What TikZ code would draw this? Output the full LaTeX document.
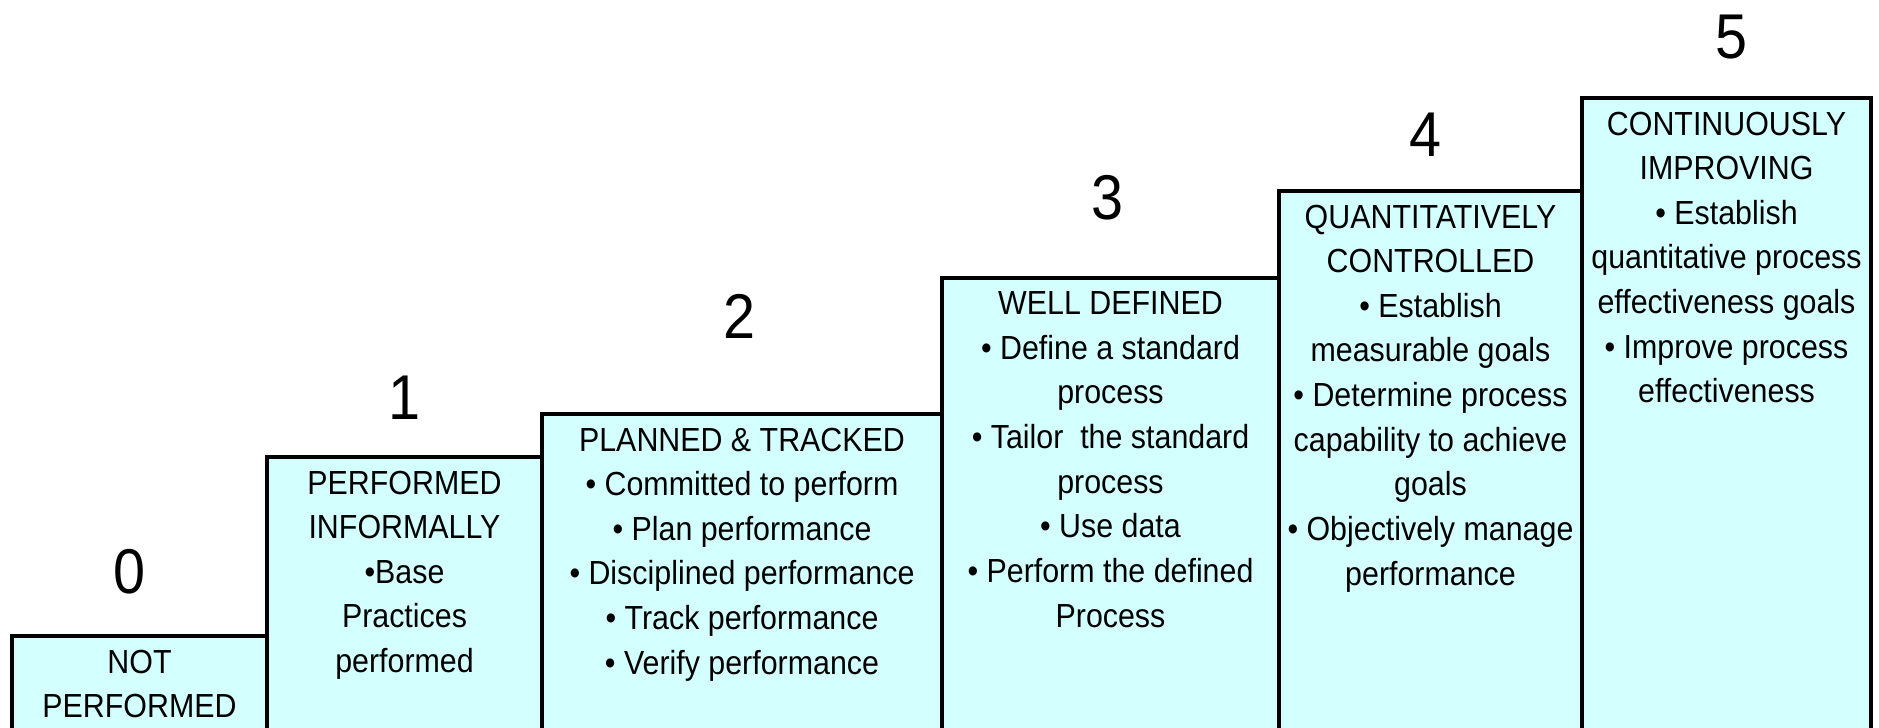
\documentclass[tikz,border=0pt]{standalone}
\usepackage{fontspec}
\setmainfont[FakeStretch=0.91]{Liberation Sans}
\usetikzlibrary{positioning}
\definecolor{stepfill}{HTML}{D4FFFF}

\begin{document}
\begin{tikzpicture}[
        stepbox/.style={draw, line width=1pt, fill=stepfill, anchor=north west, outer sep=0pt, inner sep=0pt},
        steptext/.style={align=center, inner sep=0pt, font=\fontsize{9.5pt}{12.7pt}\selectfont},
        stepnum/.style={inner sep=0pt, font=\fontsize{18pt}{20pt}\selectfont}
    ]
        \useasboundingbox (0,0) rectangle (18.79,7.28);
        \clip (0,0) rectangle (18.79,7.28);
        % the steps
        \node[stepbox, minimum width=2.55cm, minimum height=1.22cm] (b0) at (0.12,0.92) {};
        \node[stepbox, minimum width=2.75cm, minimum height=3.01cm] (b1) at (2.67,2.71) {};
        \node[stepbox, minimum width=4.00cm, minimum height=3.44cm] (b2) at (5.42,3.14) {};
        \node[stepbox, minimum width=3.37cm, minimum height=4.80cm] (b3) at (9.42,4.50) {};
        \node[stepbox, minimum width=3.03cm, minimum height=5.67cm] (b4) at (12.79,5.37) {};
        \node[stepbox, minimum width=2.89cm, minimum height=6.60cm] (b5) at (15.82,6.30) {};
        % levels
        \node[stepnum] (n0) at (1.30,1.56) {0};
        \node[stepnum] (n1) at (4.05,3.30) {1};
        \node[stepnum] (n2) at (7.39,4.12) {2};
        \node[stepnum] (n3) at (11.07,5.30) {3};
        \node[stepnum] (n4) at (14.25,5.93) {4};
        \node[stepnum] (n5) at (17.31,6.91) {5};
        % texts
        \node[steptext, below=0.13cm of b0.north] (t0) {NOT\\PERFORMED};
        \node[steptext, below=0.13cm of b1.north] (t1) {PERFORMED\\INFORMALLY\\\textbullet Base\\Practices\\performed};
        \node[steptext, below=0.13cm of b2.north] (t2) {PLANNED \& TRACKED\\\textbullet{} Committed to perform\\\textbullet{} Plan performance\\\textbullet{} Disciplined performance\\\textbullet{} Track performance\\\textbullet{} Verify performance};
        \node[steptext, below=0.13cm of b3.north] (t3) {WELL DEFINED\\\textbullet{} Define a standard\\process\\\textbullet{} Tailor~~the standard\\process\\\textbullet{} Use data\\\textbullet{} Perform the defined\\Process};
        \node[steptext, below=0.13cm of b4.north] (t4) {QUANTITATIVELY\\CONTROLLED\\\textbullet{} Establish\\measurable goals\\\textbullet{} Determine process\\capability to achieve\\goals\\\textbullet{} Objectively manage\\performance};
        \node[steptext, below=0.13cm of b5.north] (t5) {CONTINUOUSLY\\IMPROVING\\\textbullet{} Establish\\quantitative process\\effectiveness goals\\\textbullet{} Improve process\\effectiveness};
    \end{tikzpicture}
\end{document}
